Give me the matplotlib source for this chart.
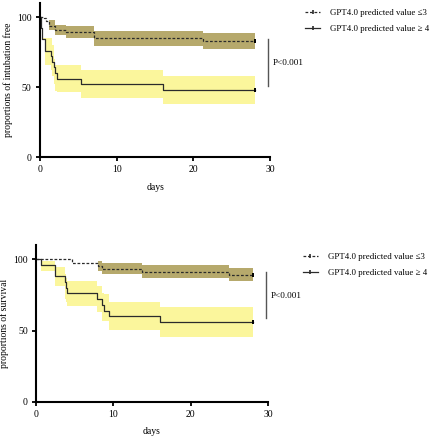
import numpy as np
import matplotlib.pyplot as plt
from matplotlib.lines import Line2D

plt.rcParams['font.family'] = ['Liberation Serif', 'DejaVu Serif']
plt.rcParams['font.size'] = 7

LOW_LABEL = 'GPT4.0 predicted value \u22643'
HIGH_LABEL = 'GPT4.0 predicted value \u2265 4'

# intubation free, predicted value <= 3
intub_low_t = [0, 0.5, 0.8, 1.2, 2.0, 3.4, 7.0, 21.2, 28]
intub_low_s = [100, 99, 97.5, 93.5, 91, 89, 84.7, 82.7, 82.7]
intub_low_lo = [100, 99, 97.5, 90.5, 87.5, 84.8, 79.5, 77, 77]
intub_low_hi = [100, 99, 97.5, 97.9, 94.5, 93.5, 89.8, 88.3, 88.3]

# intubation free, predicted value >= 4
intub_high_t = [0, 0.15, 0.3, 0.6, 1.4, 1.6, 1.8, 2.0, 2.2, 5.4, 16.0, 28]
intub_high_s = [100, 92, 84, 76, 72, 68, 64, 60, 56, 52, 48, 48]
intub_high_lo = [100, 92, 84, 66, 62, 58, 52, 47, 46.5, 42, 38, 38]
intub_high_hi = [100, 92, 85, 85, 85, 80, 70, 66, 65.7, 62, 58, 58]

# survival, predicted value <= 3
surv_low_t = [0, 4.7, 8.0, 8.5, 13.7, 24.9, 28]
surv_low_s = [100, 97.7, 95.5, 93.3, 91.3, 89.2, 89.2]
surv_low_lo = [100, 97.7, 92, 90, 87, 84.5, 84.5]
surv_low_hi = [100, 97.7, 98.5, 97.5, 96, 94, 94]

# survival, predicted value >= 4
surv_high_t = [0, 0.6, 2.4, 3.75, 3.9, 4.05, 7.85, 8.5, 8.8, 9.4, 16.05, 28]
surv_high_s = [100, 96, 88, 84, 80, 76, 72, 68, 64, 60, 56, 56]
surv_high_lo = [100, 91.5, 81.5, 72, 70, 67.4, 63, 57, 56.7, 50.1, 45.7, 45.7]
surv_high_hi = [100, 99, 94.6, 90, 87, 85, 81, 76, 75.7, 69.8, 66.2, 66.2]

KHAKI = '#b6a96c'
YELLOW = '#fbf69c'
LINE = '#2b2b2b'
DASH = (0, (2.2, 1.4))

fig = plt.figure(figsize=(4.35, 4.4), dpi=100)
ax1 = fig.add_axes([0.092, 0.643, 0.529, 0.35])
ax2 = fig.add_axes([0.083, 0.087, 0.533, 0.356])


def km_panel(ax, low, high, ylabel, p_x, p_y0, p_y1, p_tx, p_ty, leg_x, leg_y):
    for (t, s, lo, hi), color in [(high, YELLOW), (low, KHAKI)]:
        ax.fill_between(t, lo, hi, step='post', color=color, lw=0)
    for (t, s, lo, hi), ls in [(high, '-'), (low, DASH)]:
        ax.step(t, s, where='post', color=LINE, lw=0.9, ls=ls)
        ax.plot([t[-1]], [s[-1]], marker='|', ms=3.5, mew=1.4, color='black')
    ax.set_xlim(0, 30)
    ax.set_ylim(0, 110)
    ax.set_xticks([0, 10, 20, 30])
    ax.set_yticks([0, 50, 100])
    ax.spines['top'].set_visible(False)
    ax.spines['right'].set_visible(False)
    ax.spines['left'].set_linewidth(1.5)
    ax.spines['bottom'].set_linewidth(1.5)
    ax.spines['bottom'].set_bounds(0, 30)
    ax.tick_params(width=1.3, length=3, pad=3, labelsize=7)
    ax.set_xlabel('days', labelpad=6, fontsize=7)
    ax.set_ylabel(ylabel, labelpad=3, fontsize=6.9)
    ax.plot([p_x, p_x], [p_y0, p_y1], color='#555555', lw=1, clip_on=False)
    ax.text(p_tx, p_ty, 'P<0.001', va='center', ha='left', fontsize=6.6)
    handles = [
        Line2D([0], [0], color=LINE, lw=0.9, ls=DASH, marker='|', ms=3, mew=1.2),
        Line2D([0], [0], color=LINE, lw=0.9, ls='-', marker='|', ms=3, mew=1.2),
    ]
    ax.legend(handles, [LOW_LABEL, HIGH_LABEL], loc='upper left',
              bbox_to_anchor=(leg_x, leg_y), frameon=False, fontsize=6.4,
              handlelength=1.7, handletextpad=1.1, labelspacing=0.85,
              borderaxespad=0)


km_panel(ax1,
         (intub_low_t, intub_low_s, intub_low_lo, intub_low_hi),
         (intub_high_t, intub_high_s, intub_high_lo, intub_high_hi),
         'proportions of intubation free', 29.7, 51, 84, 30.4, 67, 1.137, 0.985)
km_panel(ax2,
         (surv_low_t, surv_low_s, surv_low_lo, surv_low_hi),
         (surv_high_t, surv_high_s, surv_high_lo, surv_high_hi),
         'proportions of survival', 29.7, 58.6, 91.3, 30.3, 74.3, 1.135, 0.973)

fig.savefig('out.png', dpi=100)
